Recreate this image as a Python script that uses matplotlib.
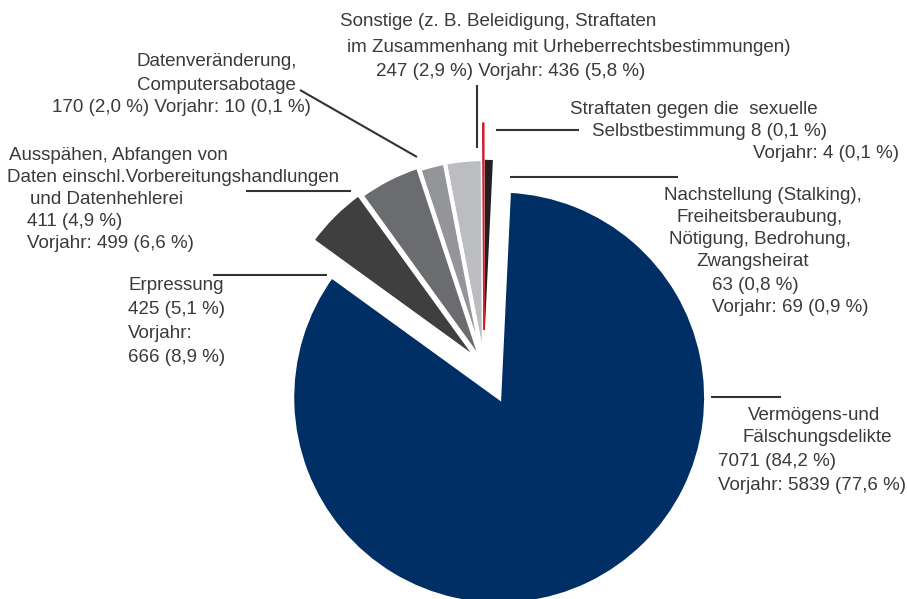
import matplotlib
matplotlib.use("Agg")
import matplotlib.pyplot as plt

# Cybercrime cases by offence group, current year and previous year (Vorjahr)
groups = [
    "Straftaten gegen die sexuelle Selbstbestimmung",
    "Sonstige",
    "Datenveränderung, Computersabotage",
    "Ausspähen, Abfangen von Daten",
    "Erpressung",
    "Vermögens- und Fälschungsdelikte",
    "Nachstellung, Freiheitsberaubung, Nötigung, Bedrohung, Zwangsheirat",
]
counts = [8, 247, 170, 411, 425, 7071, 63]
shares = [0.1, 2.9, 2.0, 4.9, 5.1, 84.2, 0.8]
prev_counts = [4, 436, 10, 499, 666, 5839, 69]
prev_shares = [0.1, 5.8, 0.1, 6.6, 8.9, 77.6, 0.9]

colors = ["#d0202e", "#bcbdc0", "#939598", "#6b6c6f", "#3f3f3f", "#002f65", "#231f20"]
# pie offsets are in data units (pixels here)
explode = [36, 0, 0, 3, 6, 35, 0]

W, H = 907, 599
TXT = "#3a3a3a"
plt.rcParams["font.family"] = ["Liberation Sans", "DejaVu Sans"]


def num(v):
    return f"{v:.1f}".replace(".", ",")


def cur(i):
    return f"{counts[i]} ({num(shares[i])} %)"


def prev(i):
    return f"{prev_counts[i]} ({num(prev_shares[i])} %)"


fig = plt.figure(figsize=(W / 100, H / 100), dpi=100)
ax = fig.add_axes([0, 0, 1, 1])

wedges, _ = ax.pie(counts, colors=colors, explode=explode, startangle=90,
                   counterclock=True, radius=207, center=(484, H - 366),
                   wedgeprops=dict(edgecolor="white", linewidth=3), frame=True)
# thin slices: red keeps its own outline, black gets a narrower white one
wedges[0].set_edgecolor(colors[0])
wedges[0].set_linewidth(1.0)
wedges[0].set_zorder(6)
wedges[6].set_linewidth(1.2)
wedges[6].set_zorder(5)

ax.set_xlim(0, W)
ax.set_ylim(0, H)
ax.set_aspect("equal")
ax.axis("off")


def lines(rows):
    # rows: (x_left, y_from_top, text)
    for x, y, s in rows:
        ax.text(x, H - y, s, ha="left", va="center", fontsize=13.5, color=TXT)


def leader(x0, y0, x1, y1):
    ax.plot([x0, x1], [H - y0, H - y1], color="#333333", lw=1.5,
            solid_capstyle="butt", zorder=7)


# Sonstige
lines([(340, 22, "Sonstige (z. B. Beleidigung, Straftaten"),
       (347, 47, "im Zusammenhang mit Urheberrechtsbestimmungen)"),
       (376, 72, f"{cur(1)} Vorjahr: {prev(1)}")])
leader(477, 85, 477, 148)

# Datenveränderung
lines([(137, 62, "Datenveränderung,"),
       (137, 85, "Computersabotage"),
       (52, 107, f"{cur(2)} Vorjahr: {prev(2)}")])
leader(300, 90, 417, 157)

# Ausspähen
lines([(9, 155, "Ausspähen, Abfangen von"),
       (7, 177, "Daten einschl.Vorbereitungshandlungen"),
       (30, 199, "und Datenhehlerei"),
       (27, 221, cur(3)),
       (27, 243, f"Vorjahr: {prev(3)}")])
leader(246, 191, 351, 191)

# Erpressung
lines([(129, 286, "Erpressung"),
       (128, 310, cur(4)),
       (128, 334, "Vorjahr:"),
       (128, 357, prev(4))])
leader(213, 275, 327, 275)

# Straftaten gegen die sexuelle Selbstbestimmung
lines([(570, 110, "Straftaten gegen die  sexuelle"),
       (592, 132, f"Selbstbestimmung {cur(0)}"),
       (753, 153, f"Vorjahr: {prev(0)}")])
leader(496, 130, 579, 130)

# Nachstellung
lines([(664, 195, "Nachstellung (Stalking),"),
       (676, 217, "Freiheitsberaubung,"),
       (669, 239, "Nötigung, Bedrohung,"),
       (696, 261, "Zwangsheirat"),
       (712, 286, cur(6)),
       (712, 308, f"Vorjahr: {prev(6)}")])
leader(510, 177, 678, 177)

# Vermögens- und Fälschungsdelikte
lines([(748, 415, "Vermögens-und"),
       (743, 438, "Fälschungsdelikte"),
       (718, 462, cur(5)),
       (718, 485, f"Vorjahr: {prev(5)}")])
leader(711, 397, 781, 397)

fig.savefig("out.png", dpi=100)
